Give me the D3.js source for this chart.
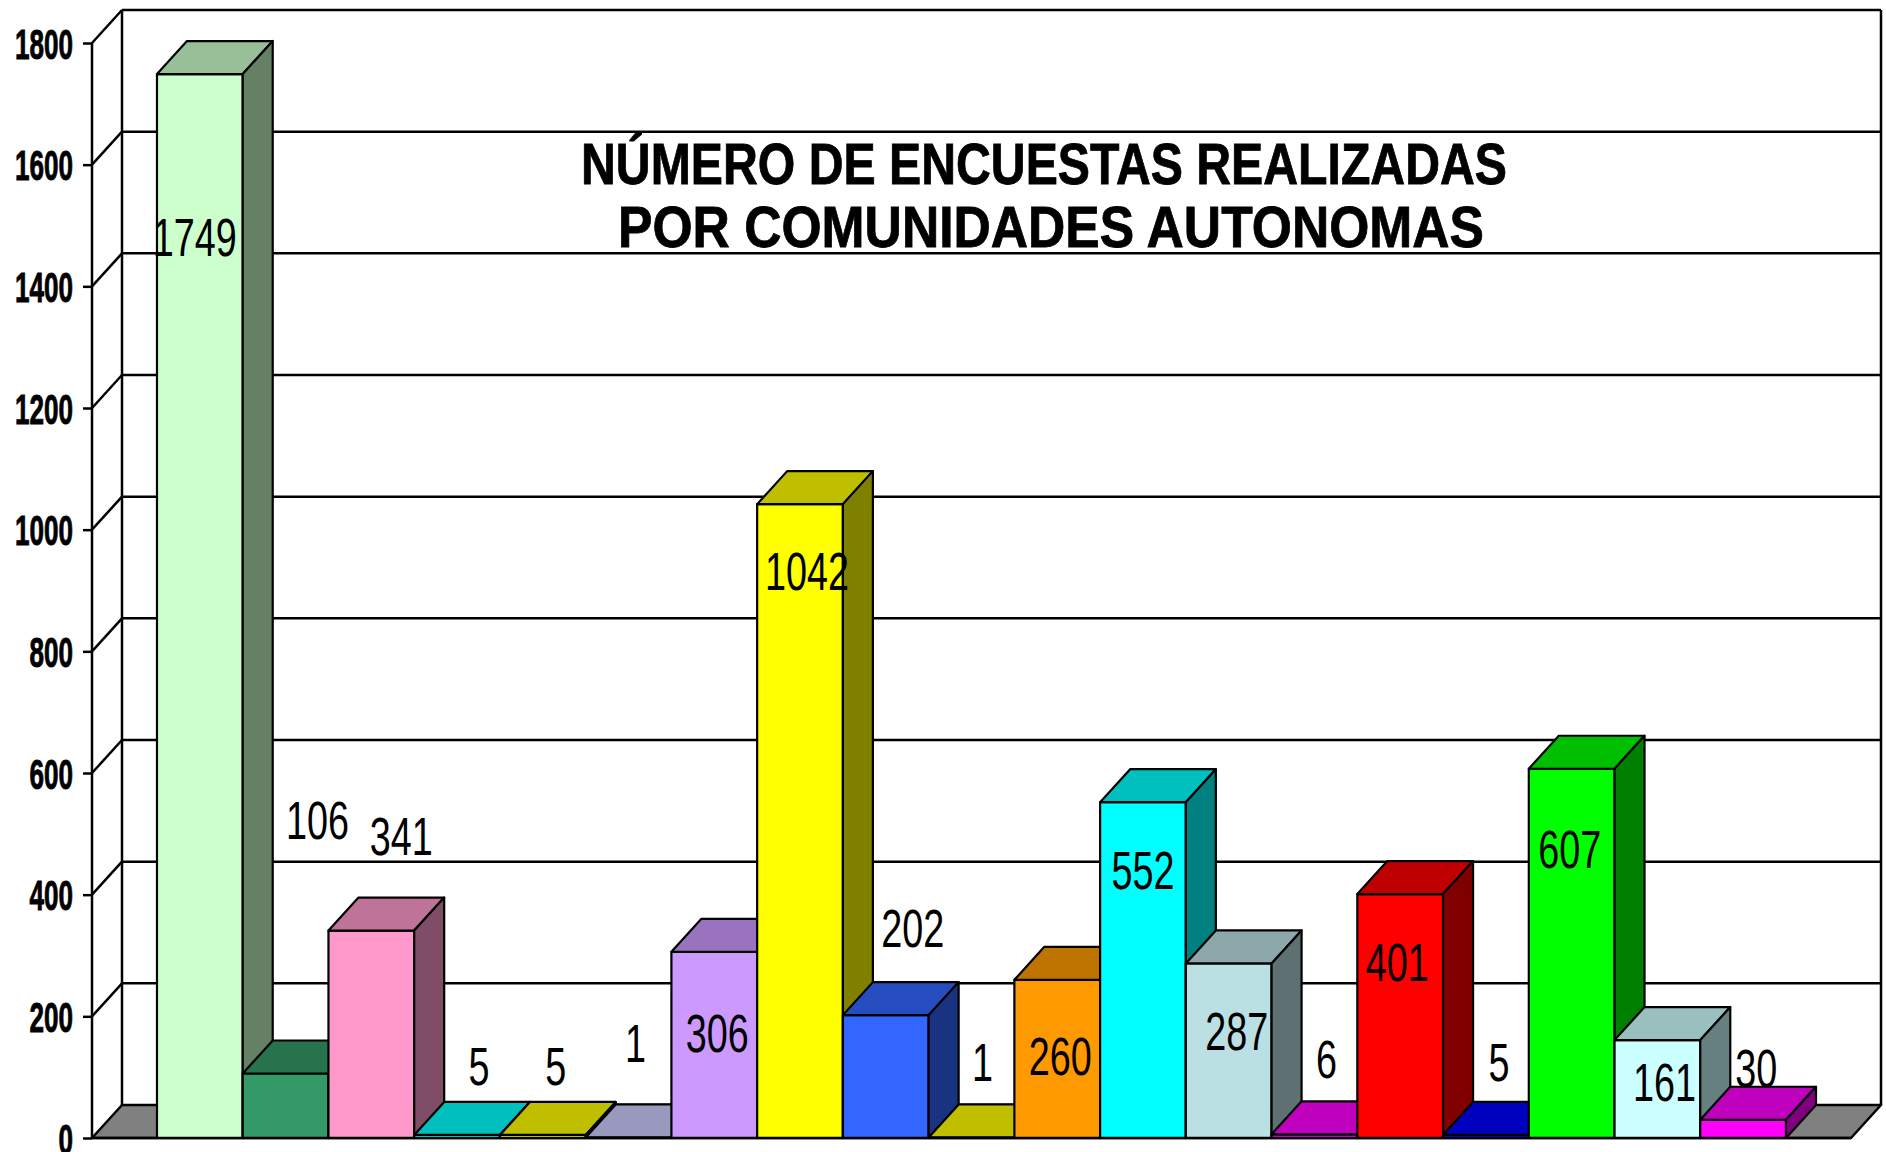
<!DOCTYPE html>
<html><head><meta charset="utf-8">
<script src="https://cdn.jsdelivr.net/npm/d3@7/dist/d3.min.js"></script>
<style>html,body{margin:0;padding:0;background:#fff;overflow:hidden}</style>
</head><body>
<svg id="chart" width="1886" height="1152"></svg>
<script>
// ---- data ----
const categories = ["CA01","CA02","CA03","CA04","CA05","CA06","CA07","CA08","CA09","CA10",
                    "CA11","CA12","CA13","CA14","CA15","CA16","CA17","CA18","CA19"];
const values = [1749,106,341,5,5,1,306,1042,202,1,260,552,287,6,401,5,607,161,30];
const yTickValues = [0,200,400,600,800,1000,1200,1400,1600,1800];
const titleLines = ["NÚMERO DE ENCUESTAS REALIZADAS","POR COMUNIDADES AUTONOMAS"];

// ---- style / layout ----
const barColors = ["#CCFFCC","#339966","#FF99CC","#00FFFF","#FFFF00","#CCCCFF","#CC99FF","#FFFF00",
                   "#3366FF","#FFFF00","#FF9900","#00FFFF","#BBE0E3","#FF00FF","#FF0000","#0000FF",
                   "#00FF00","#CCFFFF","#FF00FF"];
const labelDx = [-5,32,30,22,13,7,3,7,27,11,3,0,8,12,-3,13,-2,7,13];
const labelDy = [163,-254,-95,-69,-69,-94,81,67,-87,-75,76,68,68,-75,68,-73,80,42,-52];

const DX = 30, DY = 33;
const left = 92, right = 1851;
const svg = d3.select("#chart");

const x = d3.scaleBand().domain(categories).range([left, right]).paddingInner(0).paddingOuter(0.758);
const y = d3.scaleLinear().domain([0, 1800]).range([1138, 43]);
const bw = x.bandwidth();
const y0 = y(0);

function shade(c, k) {
  const r = d3.rgb(c);
  return d3.rgb(Math.round(r.r * k), Math.round(r.g * k), Math.round(r.b * k)).toString();
}

// back wall
svg.append("path")
  .attr("d", `M${left+DX},${y(1800)-DY} L${right+DX},${y(1800)-DY} L${right+DX},${y0-DY} L${left+DX},${y0-DY} Z`)
  .attr("fill", "#fff").attr("stroke", "none");

// floor
svg.append("path")
  .attr("d", `M${left},${y0} L${left+DX},${y0-DY} L${right+DX},${y0-DY} L${right},${y0} Z`)
  .attr("fill", "#808080").attr("stroke", "#000").attr("stroke-width", 2.5).attr("stroke-linejoin", "round");

// gridlines on back wall + diagonals on side
const grid = svg.append("g").attr("stroke", "#000").attr("stroke-width", 2.5);
grid.selectAll("line.g").data(yTickValues.filter(d => d > 0)).enter().append("line")
  .attr("x1", left + DX).attr("x2", right + DX)
  .attr("y1", d => y(d) - DY).attr("y2", d => y(d) - DY);
grid.selectAll("line.d").data(yTickValues.filter(d => d > 0)).enter().append("line")
  .attr("x1", left).attr("y1", d => y(d))
  .attr("x2", left + DX).attr("y2", d => y(d) - DY);
grid.append("line").attr("x1", left + DX).attr("x2", left + DX).attr("y1", y(1800) - DY).attr("y2", y0 - DY);
grid.append("line").attr("x1", right + DX).attr("x2", right + DX).attr("y1", y(1800) - DY).attr("y2", y0 - DY);

// y axis (front)
const axis = d3.axisLeft(y).tickValues(yTickValues).tickSize(9).tickPadding(10).tickFormat(d3.format("d"));
const axG = svg.append("g").attr("transform", `translate(${left},0)`).call(axis);
axG.select(".domain").attr("stroke", "#000").attr("stroke-width", 2.5).attr("d", `M0,${y0}V${y(1800)}`);
axG.selectAll(".tick line").attr("stroke", "#000").attr("stroke-width", 2.5);
axG.selectAll(".tick text")
  .attr("font-family", "'Liberation Sans Narrow','Arial Narrow','Liberation Sans',sans-serif")
  .attr("font-weight", "bold").attr("font-size", 42).attr("fill", "#000")
  .attr("stroke", "#000").attr("stroke-width", 0.9)
  .attr("dy", null).attr("y", 15)
  .each(function(d){ const n = String(d).length; d3.select(this).attr("textLength", n*14.5).attr("lengthAdjust","spacingAndGlyphs"); });

// bars
const bars = svg.append("g").attr("stroke", "#000").attr("stroke-width", 2.2).attr("stroke-linejoin", "round");
categories.forEach((c, i) => {
  const x0 = x(c), x1 = x0 + bw, yt = y(values[i]);
  const col = barColors[i];
  const g = bars.append("g");
  g.append("path").attr("d", `M${x0},${yt} L${x1},${yt} L${x1},${y0} L${x0},${y0} Z`).attr("fill", col);
  g.append("path").attr("d", `M${x0},${yt} L${x0+DX},${yt-DY} L${x1+DX},${yt-DY} L${x1},${yt} Z`).attr("fill", shade(col, 0.75));
  g.append("path").attr("d", `M${x1},${yt} L${x1+DX},${yt-DY} L${x1+DX},${y0-DY} L${x1},${y0} Z`).attr("fill", shade(col, 0.5));
});

// front baseline
svg.append("line").attr("x1", left).attr("x2", right).attr("y1", y0).attr("y2", y0)
  .attr("stroke", "#000").attr("stroke-width", 2.5);

// value labels
svg.append("g").selectAll("text").data(values).enter().append("text")
  .attr("x", (d, i) => x(categories[i]) + bw / 2 + labelDx[i])
  .attr("y", (d, i) => y(d) + labelDy[i] + 19)
  .attr("text-anchor", "middle")
  .attr("font-family", "'Liberation Sans Narrow','Arial Narrow','Liberation Sans',sans-serif")
  .attr("font-size", 54).attr("fill", "#000")
  .attr("textLength", d => String(d).length * 21).attr("lengthAdjust", "spacingAndGlyphs")
  .text(d => d);

// title
const titlePos = [{cx: 1044, by: 184, len: 926}, {cx: 1051, by: 247, len: 866}];
svg.append("g").selectAll("text").data(titleLines).enter().append("text")
  .attr("x", (d, i) => titlePos[i].cx).attr("y", (d, i) => titlePos[i].by)
  .attr("text-anchor", "middle")
  .attr("font-family", "'Liberation Sans','Arial',sans-serif").attr("font-weight", "bold")
  .attr("font-size", 57).attr("fill", "#000")
  .attr("stroke", "#000").attr("stroke-width", 0.8)
  .attr("textLength", (d, i) => titlePos[i].len).attr("lengthAdjust", "spacingAndGlyphs")
  .text(d => d);
</script>
</body></html>
